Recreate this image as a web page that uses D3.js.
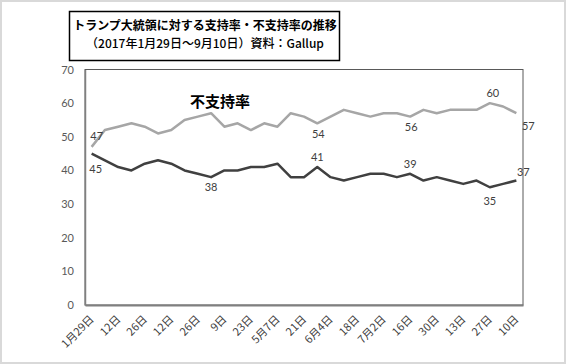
<!DOCTYPE html>
<html>
<head>
<meta charset="utf-8">
<script src="https://cdn.jsdelivr.net/npm/d3@7"></script>
<style>
  body { margin: 0; background: #fff; }
  svg { display: block; }
</style>
</head>
<body>
<svg id="chart" width="566" height="364"></svg>
<script>
// weekly dates, 2017-01-29 .. 2017-09-10
var weeks = ["1月29日", "2月5日", "12日", "19日", "26日", "3月5日", "12日", "19日", "26日", "4月2日", "9日",
    "16日", "23日", "30日", "5月7日", "14日", "21日", "28日", "6月4日", "11日", "18日", "25日",
    "7月2日", "9日", "16日", "23日", "30日", "8月6日", "13日", "20日", "27日", "9月3日", "10日"];
var shownLabels = ["1月29日", "12日", "26日", "12日", "26日", "9日", "23日", "5月7日", "21日",
    "6月4日", "18日", "7月2日", "16日", "30日", "13日", "27日", "10日"];
var disapprove = [47, 52, 53, 54, 53, 51, 52, 55, 56, 57, 53, 54, 52, 54, 53, 57, 56, 54, 56, 58, 57, 56,
    57, 57, 56, 58, 57, 58, 58, 58, 60, 59, 57];
var approve = [45, 43, 41, 40, 42, 43, 42, 40, 39, 38, 40, 40, 41, 41, 42, 38, 38, 41, 38, 37, 38, 39,
    39, 38, 39, 37, 38, 37, 36, 37, 35, 36, 37];
var yTicks = [0, 10, 20, 30, 40, 50, 60, 70];
// points that carry a value label
var disapproveLabelAt = [0, 17, 24, 30, 32];
var approveLabelAt = [0, 9, 17, 24, 30, 32];

var svg = d3.select('#chart');
var numFont = 'Lato, "Noto Sans", sans-serif';
var jpFont = '"Noto Sans CJK JP", sans-serif';

// label offsets from the point (dx, dy), same order as the label lists
var disapproveOffsets = [[5, -7], [1, 15], [1, 14], [3, -6], [12, 17]];
var approveOffsets = [[4, 19], [0, 14], [0, -6], [0, -6], [0, 18], [7, -5]];

// outer frame
svg.append('rect')
    .attr('x', 1).attr('y', 1).attr('width', 564).attr('height', 362)
    .attr('fill', '#fff').attr('stroke', '#d9d9d9').attr('stroke-width', 2);

var plotLeft = 85, plotRight = 523, plotTop = 69.5, plotBottom = 305;
var idx = d3.range(weeks.length);
var x = d3.scaleBand().domain(idx).range([plotLeft, plotRight]);
var y = d3.scaleLinear().domain([0, 70]).range([plotBottom, plotTop]);
var cx = function(i) { return x(i) + x.bandwidth() / 2; };

// plot frame
svg.append('rect')
    .attr('x', plotLeft).attr('y', plotTop).attr('width', plotRight - plotLeft).attr('height', plotBottom - plotTop)
    .attr('fill', 'none').attr('stroke', '#595959').attr('stroke-width', 1);

// y axis
var yAxis = svg.append('g')
    .attr('transform', 'translate(' + plotLeft + ',0)')
    .call(d3.axisLeft(y).tickValues(yTicks).tickSize(0).tickPadding(11));
yAxis.select('.domain').attr('stroke', '#808080').attr('stroke-width', 1.5);
yAxis.selectAll('text').attr('font-family', numFont).attr('font-size', 11).attr('fill', '#595959');

// x axis, every other week labelled
var xAxis = svg.append('g')
    .attr('transform', 'translate(0,' + plotBottom + ')')
    .call(d3.axisBottom(x).tickValues(idx.filter(function(i) { return i % 2 === 0; }))
        .tickFormat(function(i) { return shownLabels[i / 2]; }).tickSize(0));
xAxis.select('.domain').attr('stroke', '#808080').attr('stroke-width', 2);
xAxis.selectAll('text')
    .attr('font-family', jpFont).attr('font-size', 11).attr('fill', '#404040')
    .attr('text-anchor', 'end')
    .attr('dy', null).attr('y', 0)
    .attr('transform', 'translate(3,15) rotate(-45)');

var line = function(vals) {
    return d3.line().x(function(d, i) { return cx(i); }).y(function(d) { return y(d); })(vals);
};

svg.append('path').attr('d', line(disapprove))
    .attr('fill', 'none').attr('stroke', '#a6a6a6').attr('stroke-width', 2.5).attr('stroke-linejoin', 'round');
svg.append('path').attr('d', line(approve))
    .attr('fill', 'none').attr('stroke', '#404040').attr('stroke-width', 2.5).attr('stroke-linejoin', 'round');

function valueLabels(vals, spots, offsets) {
    spots.forEach(function(i, k) {
        svg.append('text')
            .attr('x', cx(i) + offsets[k][0])
            .attr('y', y(vals[i]) + offsets[k][1])
            .attr('text-anchor', 'middle')
            .attr('font-family', numFont).attr('font-size', 11).attr('fill', '#404040')
            .text(vals[i]);
    });
}
valueLabels(disapprove, disapproveLabelAt, disapproveOffsets);
valueLabels(approve, approveLabelAt, approveOffsets);

// series name
svg.append('text')
    .attr('x', 220).attr('y', 107).attr('text-anchor', 'middle')
    .attr('font-family', jpFont).attr('font-size', 15).attr('font-weight', 'bold').attr('fill', '#000')
    .text('不支持率');

// title box
svg.append('rect')
    .attr('x', 69.5).attr('y', 11.5).attr('width', 270).attr('height', 49)
    .attr('fill', '#fff').attr('stroke', '#000').attr('stroke-width', 1.5);
svg.append('text')
    .attr('x', 205).attr('y', 30).attr('text-anchor', 'middle')
    .attr('font-family', jpFont).attr('font-size', 12).attr('font-weight', 'bold')
    .text('トランプ大統領に対する支持率・不支持率の推移');
svg.append('text')
    .attr('x', 205).attr('y', 48).attr('text-anchor', 'middle')
    .attr('font-family', jpFont).attr('font-size', 12).attr('font-weight', 500)
    .text('（2017年1月29日～9月10日）資料：Gallup');
</script>
</body>
</html>
